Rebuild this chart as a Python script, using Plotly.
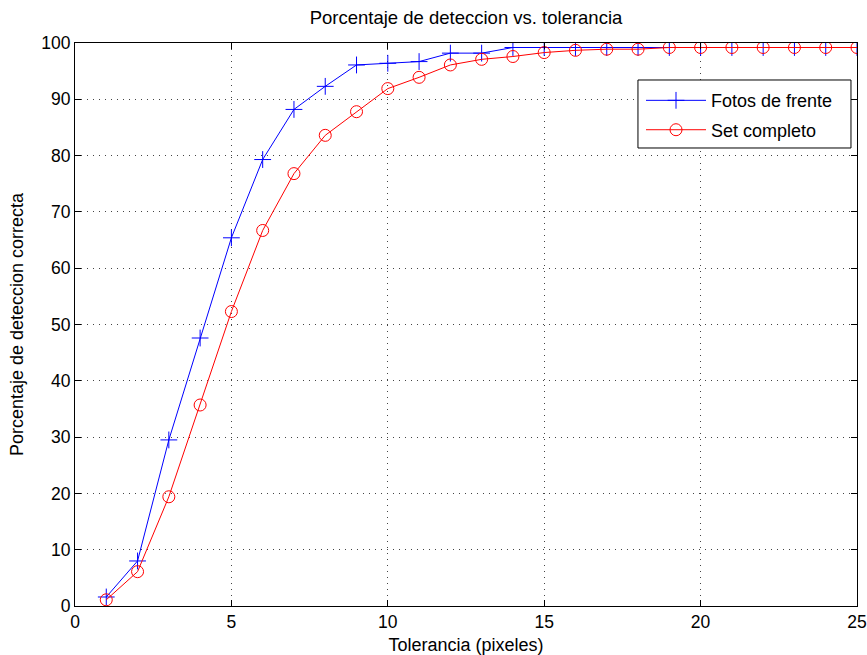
import plotly.graph_objects as go

tolerancia = list(range(1, 26))
fotos_frente = [1.6, 8.0, 29.5, 47.6, 65.4, 79.3, 88.2, 92.3, 96.1, 96.4, 96.7, 98.2, 98.2, 99.2,
                99.2, 99.2, 99.2, 99.2, 99.2, 99.2, 99.2, 99.2, 99.2, 99.2, 99.2]
set_completo = [1.1, 6.1, 19.4, 35.7, 52.3, 66.7, 76.8, 83.6, 87.8, 91.9, 93.9, 96.1, 97.1, 97.6,
                98.3, 98.7, 98.9, 98.9, 99.2, 99.2, 99.2, 99.2, 99.2, 99.2, 99.2]
x_ticks = [0, 5, 10, 15, 20, 25]
y_ticks = list(range(0, 101, 10))

FONT = "Liberation Sans, Arial"

fig = go.Figure()
fig.add_trace(go.Scatter(
    x=tolerancia, y=fotos_frente, name="Fotos de frente", mode="lines+markers",
    legendgroup="a",
    line=dict(color="#0000ff", width=1),
    marker=dict(symbol="cross-thin-open", size=12, line=dict(color="#0000ff", width=1)),
))
fig.add_trace(go.Scatter(
    x=tolerancia, y=set_completo, name="Set completo", mode="lines+markers",
    legendgroup="b",
    line=dict(color="#ff0000", width=1),
    marker=dict(symbol="circle-open", size=12, color="#ff0000", line=dict(color="#ff0000", width=1)),
))

axis_common = dict(
    showline=True, linecolor="black", linewidth=1, mirror="ticks",
    ticks="inside", ticklen=6, tickcolor="black",
    showgrid=True, gridcolor="#444444", griddash="1px,5px", gridwidth=1,
    zeroline=False, automargin=False,
    tickfont=dict(size=17.5, color="black", family=FONT),
)
fig.update_xaxes(range=[0, 25], tickvals=x_ticks,
                 title=dict(text="Tolerancia (pixeles)", standoff=7,
                            font=dict(size=18, color="black", family=FONT)),
                 **axis_common)
fig.update_yaxes(range=[0, 100], tickvals=y_ticks,
                 title=dict(text="Porcentaje de deteccion correcta", standoff=12,
                            font=dict(size=18, color="black", family=FONT)),
                 **axis_common)

# legend frame (paper coords)
fig.add_shape(type="rect", xref="paper", yref="paper",
              x0=0.7199, x1=0.9923, y0=0.8135, y1=0.9343,
              line=dict(color="black", width=1), fillcolor="white", layer="above")

fig.update_layout(
    width=867, height=655,
    margin=dict(l=75, r=10, t=43, b=49, autoexpand=False),
    paper_bgcolor="white", plot_bgcolor="white",
    title=dict(text="Porcentaje de deteccion vs. tolerancia", x=(75 + 857) / 2 / 867, xanchor="center",
               y=1 - 18 / 655, yanchor="middle",
               font=dict(size=18.5, color="black", family=FONT)),
    legend=dict(x=0.7238, y=0.9305, xanchor="left", yanchor="top",
                bgcolor="rgba(0,0,0,0)", borderwidth=0,
                font=dict(size=18, color="black", family=FONT),
                itemwidth=60, tracegroupgap=3),
    showlegend=True,
)

fig.write_html("out.html", post_script="document.body.style.margin='0';",
               config={"displayModeBar": False})
